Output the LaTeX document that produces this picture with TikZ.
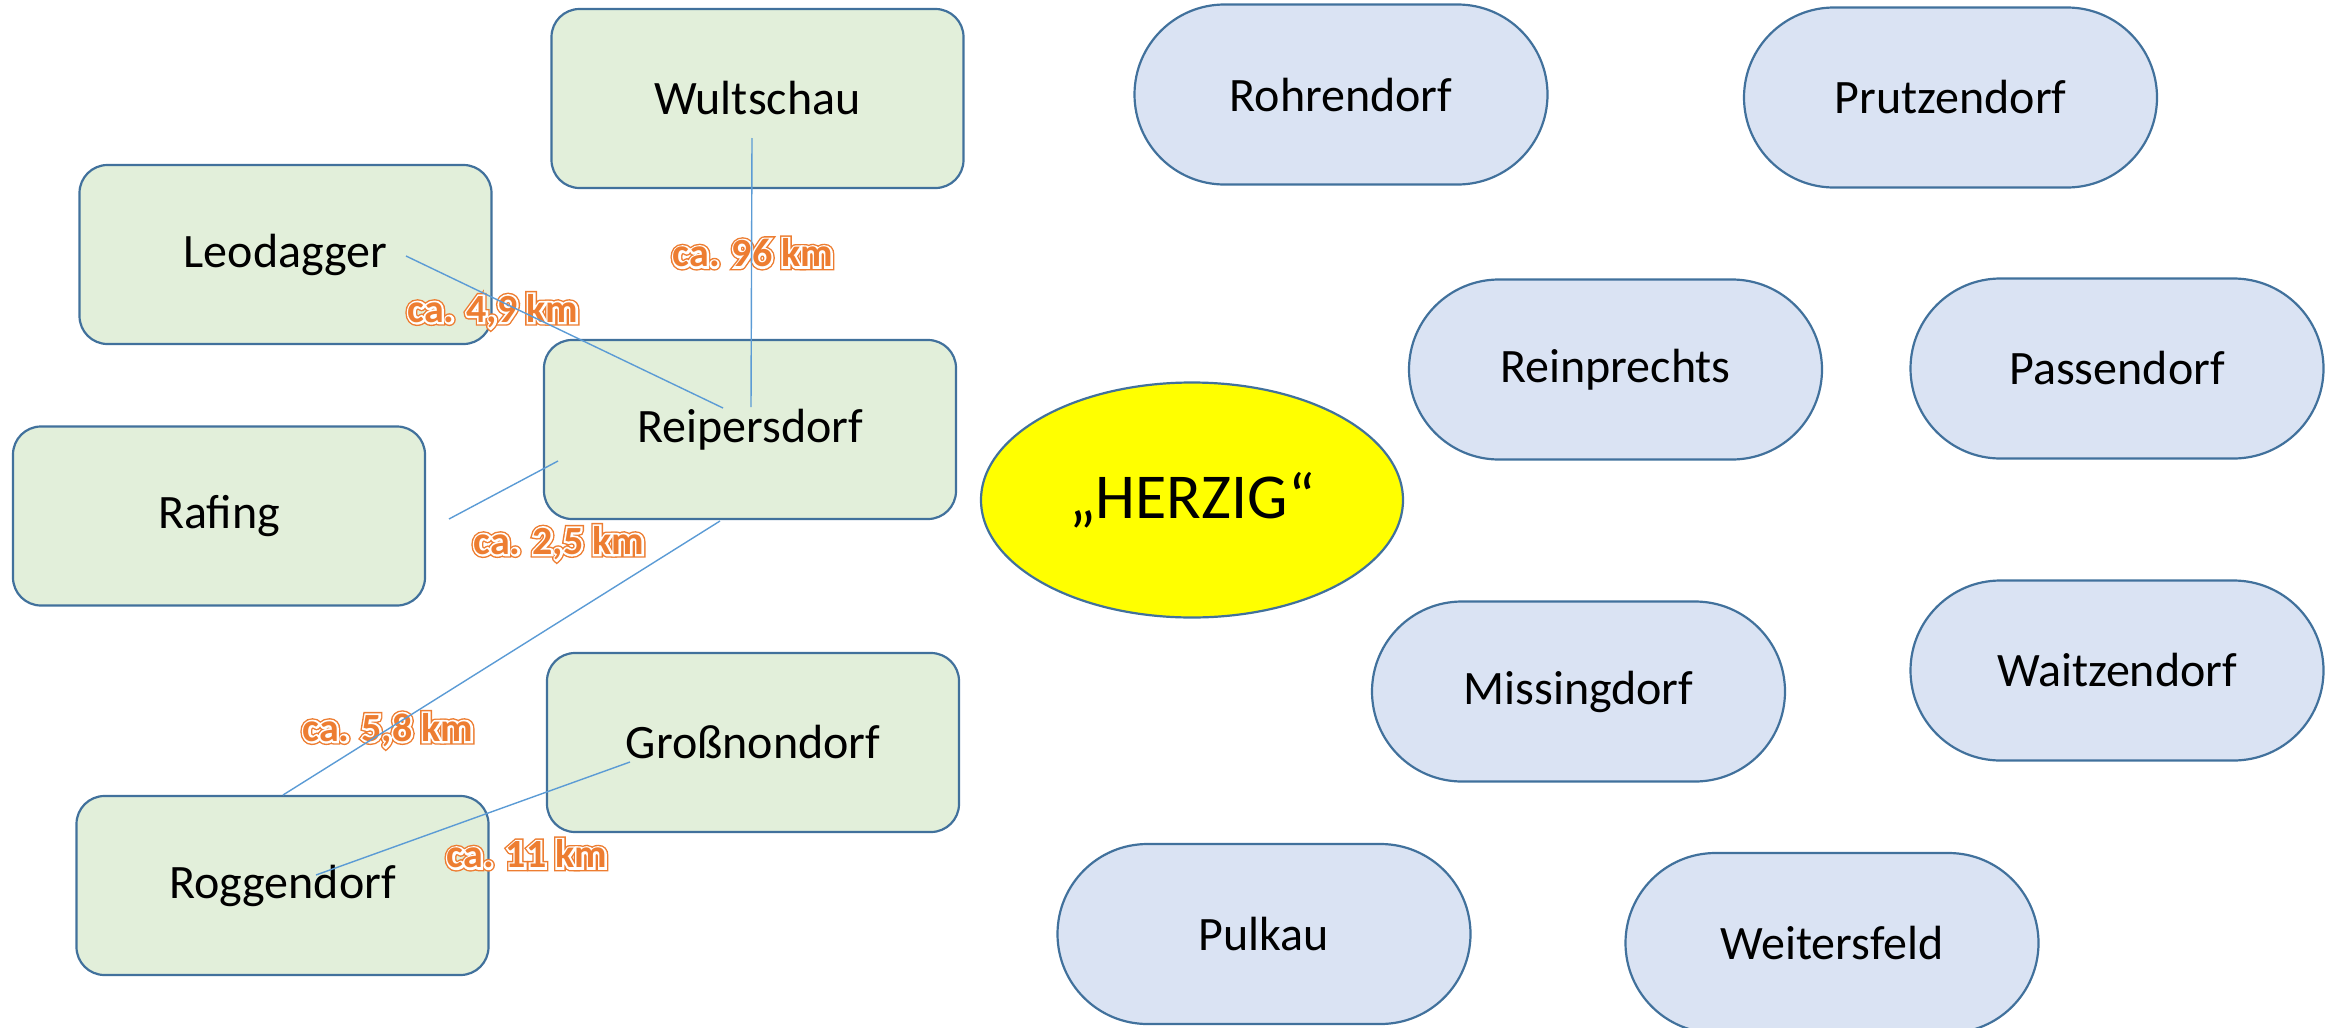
\documentclass[tikz,border=0pt]{standalone}
\usepackage{fontspec}
\setmainfont{Carlito}
\newfontfamily\kmouter{Carlito}[BoldFeatures={FakeBold=17}]
\newfontfamily\kmmid{Carlito}[BoldFeatures={FakeBold=10}]
\usetikzlibrary{shapes.misc,shapes.geometric,calc}
\definecolor{boxgreen}{HTML}{E2EFDA}
\definecolor{boxblue}{HTML}{DAE3F3}
\definecolor{edgeblue}{HTML}{41719C}
\definecolor{linkblue}{HTML}{5B9BD5}
\definecolor{kmorange}{HTML}{ED7D31}
\definecolor{herzyellow}{HTML}{FFFF00}
\tikzset{
  placebox/.style={draw=edgeblue, line width=2.2pt, fill=boxgreen, rectangle, rounded corners=28pt,
    minimum width=412pt, minimum height=179pt, inner sep=0pt, font=\fontsize{48}{58}\selectfont},
  placepill/.style={draw=edgeblue, line width=2.2pt, fill=boxblue, rounded rectangle,
    minimum width=413pt, minimum height=180pt, inner sep=0pt, font=\fontsize{48}{58}\selectfont},
  herzshape/.style={draw=edgeblue, line width=2.2pt, fill=herzyellow, ellipse,
    minimum width=422pt, minimum height=235pt, inner sep=0pt, font=\fontsize{64}{76}\selectfont},
  kmtext/.style={inner sep=0pt, font=\fontsize{40}{48}\selectfont\bfseries},
  link/.style={draw=linkblue, line width=1.4pt}
}
\newcommand{\kmlabel}[3]{%
  \node[kmtext, text=kmorange] at (#2) {\kmouter\bfseries #3};
  \node[kmtext, text=white] at (#2) {\kmmid\bfseries #3};
  \node[kmtext, text=kmorange] (#1) at (#2) {#3};}
\begin{document}
\begin{tikzpicture}[x=1pt,y=-1pt]
\useasboundingbox (0,0) rectangle (2338,1028);
% green boxes
\node[placebox] (wult)  at (757.5,98.5)  {Wultschau};
\node[placebox] (leo)   at (285.5,254.5) {Leodagger};
\node[placebox] (reip)  at (750,429.5)   {Reipersdorf};
\node[placebox] (raf)   at (219,516)     {Rafing};
\node[placebox] (gross) at (753,742.5)   {Großnondorf};
\node[placebox] (rogg)  at (282.5,885.5) {Roggendorf};
% blue pills
\node[placepill] (rohr)  at (1341,94.5)   {Rohrendorf};
\node[placepill] (prutz) at (1950.5,97.5) {Prutzendorf};
\node[placepill] (reinp) at (1615.5,369.5){Reinprechts};
\node[placepill] (pass)  at (2117,368.5)  {Passendorf};
\node[placepill] (miss)  at (1578.5,691.5){Missingdorf};
\node[placepill] (waitz) at (2117,670.5)  {Waitzendorf};
\node[placepill] (pulk)  at (1264,934)    {Pulkau};
\node[placepill] (weit)  at (1832,943)    {Weitersfeld};
% centre
\node[herzshape] (herz) at (1192,500) {„HERZIG“};
% distance labels
\kmlabel{l96}{753,253}{ca. 96 km}
\kmlabel{l49}{493,311}{ca. 4,9 km}
\kmlabel{l25}{559,543}{ca. 2,5 km}
\kmlabel{l58}{388,730}{ca. 5,8 km}
\kmlabel{l11}{527,854}{ca. 11 km}
% connector end points
\coordinate (wultS)  at (752,138);
\coordinate (reipN)  at (751,407);
\coordinate (leoE)   at (406,256);
\coordinate (reipNW) at (723,408);
\coordinate (rafE)   at (449,519);
\coordinate (reipW)  at (558,461);
\coordinate (reipS)  at (720,521);
\coordinate (roggN)  at (283,795);
\coordinate (grossW) at (630,762);
\coordinate (roggE)  at (316,875);
% connectors
\draw[link] (wultS) -- (reipN);
\draw[link] (leoE) -- (reipNW);
\draw[link] (rafE) -- (reipW);
\draw[link] (reipS) -- (roggN);
\draw[link] (grossW) -- (roggE);
\end{tikzpicture}
\end{document}
